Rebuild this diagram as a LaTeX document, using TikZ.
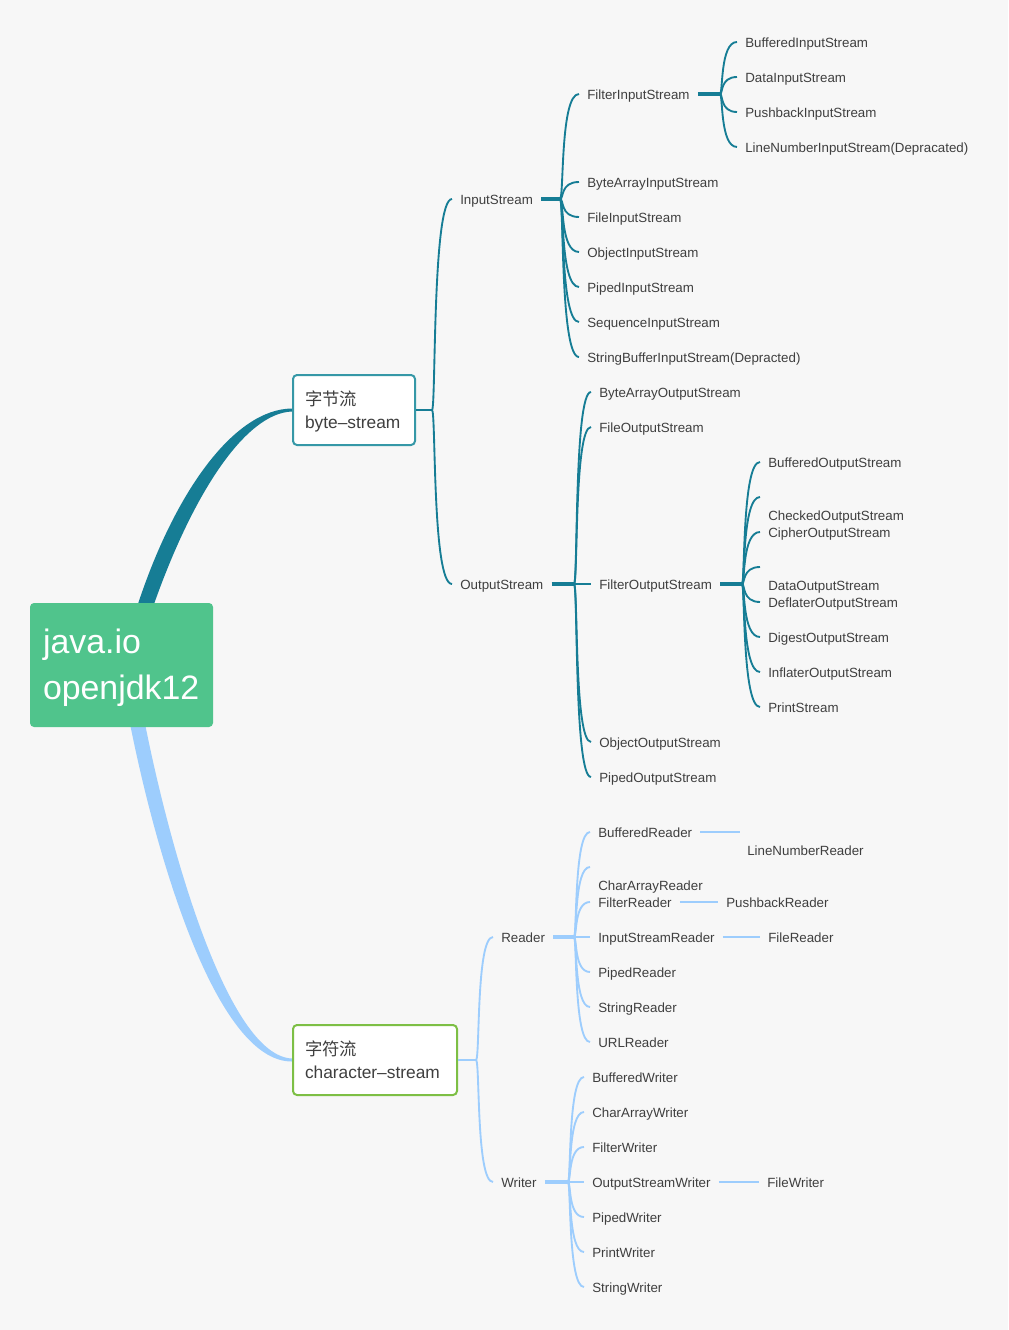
\documentclass[tikz,border=0pt]{standalone}
\usepackage{fontspec}
\setmainfont{Liberation Sans}
\newfontfamily\cjk{Noto Sans CJK SC}
\usetikzlibrary{calc}
\definecolor{pagebg}{HTML}{F7F7F7}
\definecolor{bytecol}{HTML}{167D95}
\definecolor{charcol}{HTML}{9DCDFD}
\definecolor{rootcol}{HTML}{50C48C}
\definecolor{byteline}{HTML}{3698A7}
\definecolor{charline}{HTML}{7DBF45}
\definecolor{txtcol}{HTML}{3F3F3F}
\pgfdeclarelayer{back}
\pgfsetlayers{back,main}
\tikzset{
  leaf/.style={anchor=west, inner xsep=6pt, inner ysep=0pt, text height=8.7pt, text depth=0pt, text=txtcol, font=\fontsize{10}{12}\selectfont},
  topic/.style={draw, fill=white, line width=1.5pt, rounded corners=3pt, inner xsep=9pt, inner ysep=0pt, minimum height=52.5pt, align=left, text=txtcol, font=\fontsize{13}{17.5}\selectfont},
  bytebr/.style={draw=bytecol, line width=1.4pt},
  charbr/.style={draw=charcol, line width=1.4pt},
  bytestub/.style={draw=bytecol, line width=2.6pt},
  charstub/.style={draw=charcol, line width=2.6pt}
}

\begin{document}
\begin{tikzpicture}[x=0.75pt, y=-0.75pt]
      \node (root) at (121.5,665) [fill=rootcol, rounded corners=3pt, minimum height=93pt, inner xsep=9.75pt, text width=117.75pt, align=left, text=white, font=\fontsize{25.4}{34.5}\selectfont] {\rule{0pt}{22.4pt}java.io\\openjdk12};
      \node (byte) at (354,410) [topic, draw=byteline, text width=73.5pt] {\rule{0pt}{13pt}{\cjk 字节流}\\byte--stream};
      \node (char) at (375,1060) [topic, draw=charline, text width=105pt] {{\cjk 字符流}\\character--stream};

      \node (ins) at (452,199) [leaf] {InputStream};
      \node (outs) at (452,584) [leaf] {OutputStream};
      \coordinate (jbyte) at (432,410);
      \draw [bytebr] (byte.east) -- (jbyte);
      \foreach \n in {ins,outs}
        \draw [bytebr] (jbyte) .. controls +(4,0) and +(-20,0) .. (\n.west);

      \node (fis) at (579,94) [leaf] {FilterInputStream};
      \node (bais) at (579,182) [leaf] {ByteArrayInputStream};
      \node (fileis) at (579,217) [leaf] {FileInputStream};
      \node (ois) at (579,252) [leaf] {ObjectInputStream};
      \node (pipis) at (579,287) [leaf] {PipedInputStream};
      \node (seqis) at (579,322) [leaf] {SequenceInputStream};
      \node (sbis) at (579,357) [leaf] {StringBufferInputStream(Depracted)};
      \coordinate (jins) at (560,199);
      \draw [bytestub] (ins.east) -- (jins);
      \foreach \n in {fis,bais,fileis,ois,pipis,seqis,sbis}
        \draw [bytebr] (jins) .. controls +(4,0) and +(-19,0) .. (\n.west);

      \node (bufis) at (737,42) [leaf] {BufferedInputStream};
      \node (datis) at (737,77) [leaf] {DataInputStream};
      \node (pbis) at (737,112) [leaf] {PushbackInputStream};
      \node (lnis) at (737,147) [leaf] {LineNumberInputStream(Depracated)};
      \coordinate (jfis) at (720,94);
      \draw [bytestub] (fis.east) -- (jfis);
      \foreach \n in {bufis,datis,pbis,lnis}
        \draw [bytebr] (jfis) .. controls +(3,0) and +(-17,0) .. (\n.west);

      \node (baos) at (591,392) [leaf] {ByteArrayOutputStream};
      \node (fileos) at (591,427) [leaf] {FileOutputStream};
      \node (filtos) at (591,584) [leaf] {FilterOutputStream};
      \node (oos) at (591,742) [leaf] {ObjectOutputStream};
      \node (pipos) at (591,777) [leaf] {PipedOutputStream};
      \coordinate (jouts) at (574,584);
      \draw [bytestub] (outs.east) -- (jouts);
      \foreach \n in {baos,fileos,oos,pipos}
        \draw [bytebr] (jouts) .. controls +(4,0) and +(-17,0) .. (\n.west);
      \draw [bytebr] (jouts) -- (filtos.west);

      \node (bufos) at (760,462) [leaf] {BufferedOutputStream};
      \coordinate (chkend) at (760,497);
      \node (chkos) at (760,515) [leaf] {CheckedOutputStream};
      \node (ciphos) at (760,532) [leaf] {CipherOutputStream};
      \coordinate (datend) at (760,567);
      \node (datos) at (760,585) [leaf] {DataOutputStream};
      \node (deflos) at (760,602) [leaf] {DeflaterOutputStream};
      \node (digos) at (760,637) [leaf] {DigestOutputStream};
      \node (inflos) at (760,672) [leaf] {InflaterOutputStream};
      \node (prnos) at (760,707) [leaf] {PrintStream};
      \coordinate (jfos) at (742,584);
      \draw [bytestub] (filtos.east) -- (jfos);
      \foreach \n in {bufos.west,chkend,ciphos.west,datend,deflos.west,digos.west,inflos.west,prnos.west}
        \draw [bytebr] (jfos) .. controls +(3,0) and +(-18,0) .. (\n);

      \node (rdr) at (493,937) [leaf] {Reader};
      \node (wrt) at (493,1182) [leaf] {Writer};
      \coordinate (jchar) at (476,1060);
      \draw [charbr] (char.east) -- (jchar);
      \foreach \n in {rdr,wrt}
        \draw [charbr] (jchar) .. controls +(4,0) and +(-17,0) .. (\n.west);

      \node (bufrd) at (590,832) [leaf] {BufferedReader};
      \coordinate (carend) at (590,867);
      \node (carrd) at (590,885) [leaf] {CharArrayReader};
      \node (filtrd) at (590,902) [leaf] {FilterReader};
      \node (isrd) at (590,937) [leaf] {InputStreamReader};
      \node (piprd) at (590,972) [leaf] {PipedReader};
      \node (strrd) at (590,1007) [leaf] {StringReader};
      \node (urlrd) at (590,1042) [leaf] {URLReader};
      \coordinate (jrdr) at (574,937);
      \draw [charstub] (rdr.east) -- (jrdr);
      \foreach \n in {bufrd.west,carend,filtrd.west,piprd.west,strrd.west,urlrd.west}
        \draw [charbr] (jrdr) .. controls +(3,0) and +(-16,0) .. (\n);
      \draw [charbr] (jrdr) -- (isrd.west);

      \coordinate (lnrend) at (740,832);
      \node (lnrd) at (739,850) [leaf] {LineNumberReader};
      \draw [charbr] (bufrd.east) -- (lnrend);
      \node (pbrd) at (718,902) [leaf] {PushbackReader};
      \draw [charbr] (filtrd.east) -- (pbrd.west);
      \node (filerd) at (760,937) [leaf] {FileReader};
      \draw [charbr] (isrd.east) -- (filerd.west);

      \node (bufwr) at (584,1077) [leaf] {BufferedWriter};
      \node (carwr) at (584,1112) [leaf] {CharArrayWriter};
      \node (filtwr) at (584,1147) [leaf] {FilterWriter};
      \node (oswr) at (584,1182) [leaf] {OutputStreamWriter};
      \node (pipwr) at (584,1217) [leaf] {PipedWriter};
      \node (prnwr) at (584,1252) [leaf] {PrintWriter};
      \node (strwr) at (584,1287) [leaf] {StringWriter};
      \coordinate (jwrt) at (568,1182);
      \draw [charstub] (wrt.east) -- (jwrt);
      \foreach \n in {bufwr,carwr,filtwr,pipwr,prnwr,strwr}
        \draw [charbr] (jwrt) .. controls +(3,0) and +(-16,0) .. (\n.west);
      \draw [charbr] (jwrt) -- (oswr.west);
      \node (filewr) at (759,1182) [leaf] {FileWriter};
      \draw [charbr] (oswr.east) -- (filewr.west);

      \begin{pgfonlayer}{back}
      \fill [pagebg] (0,0) rectangle (1008,1330);
      \fill [bytecol] ($(root.north west)+(107,5)$) .. controls (175,490) and (235,409) .. ($(byte.west)+(0,-1.5)$) -- ($(byte.west)+(0,1.5)$) .. controls (245,413) and (192,495) .. ($(root.north west)+(123,5)$) -- cycle;
      \fill [charcol] ($(root.south west)+(100,-5)$) .. controls (155,850) and (215,1062) .. ($(char.west)+(0,1.5)$) -- ($(char.west)+(0,-1.5)$) .. controls (228,1056) and (170,850) .. ($(root.south west)+(115,-5)$) -- cycle;
      \end{pgfonlayer}
    \end{tikzpicture}
\end{document}
